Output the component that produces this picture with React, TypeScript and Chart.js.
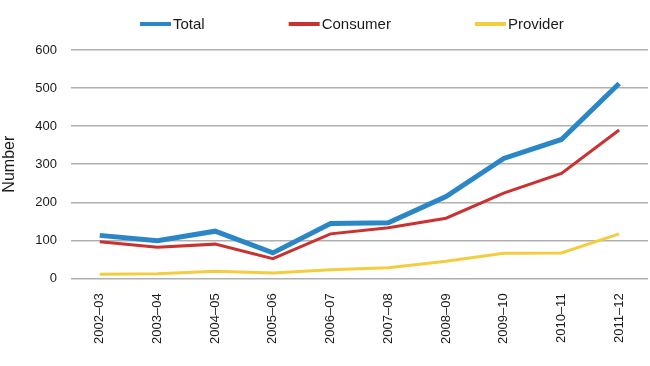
import React, { useEffect, useRef } from "react";
import { Chart, registerables } from "chart.js";

Chart.register(...registerables);

const categories = [
  "2002–03", "2003–04", "2004–05", "2005–06", "2006–07",
  "2007–08", "2008–09", "2009–10", "2010–11", "2011–12",
];
const totalValues = [113, 99, 124, 67, 144, 146, 215, 315, 365, 512];
const consumerValues = [96, 82, 90, 52, 117, 133, 158, 224, 276, 390];
const providerValues = [11, 12, 19, 14, 23, 28, 45, 66, 67, 117];
const seriesNames = ["Total", "Consumer", "Provider"];
const yTitle = "Number";

const FONT = "'Liberation Sans', Arial, Helvetica, sans-serif";

const customLegend = {
  id: "customLegend",
  afterDraw(chart: any) {
    const ctx = chart.ctx;
    ctx.save();
    ctx.font = `15px ${FONT}`;
    ctx.textBaseline = "middle";
    ctx.textAlign = "left";
    let x = 140;
    const y = 24;
    chart.data.datasets.forEach((ds: any) => {
      ctx.strokeStyle = ds.borderColor;
      ctx.lineWidth = 4;
      ctx.lineCap = "butt";
      ctx.beginPath();
      ctx.moveTo(x, y);
      ctx.lineTo(x + 31, y);
      ctx.stroke();
      ctx.fillStyle = "#1a1a1a";
      ctx.fillText(ds.label, x + 33, y + 1);
      x += 33 + ctx.measureText(ds.label).width + 84;
    });
    ctx.restore();
  },
};

export default function App() {
  const ref = useRef<HTMLCanvasElement>(null);
  useEffect(() => {
    if (!ref.current) return;
    const chart = new Chart(ref.current, {
      type: "line",
      data: {
        labels: categories,
        datasets: [
          {
            label: seriesNames[0],
            data: totalValues,
            borderColor: "#2a86c6",
            backgroundColor: "#2a86c6",
            borderWidth: 5,
            pointRadius: 0,
            tension: 0,
            order: 1,
          },
          {
            label: seriesNames[1],
            data: consumerValues,
            borderColor: "#c93230",
            backgroundColor: "#c93230",
            borderWidth: 3,
            pointRadius: 0,
            tension: 0,
            order: 2,
          },
          {
            label: seriesNames[2],
            data: providerValues,
            borderColor: "#f4cd3e",
            backgroundColor: "#f4cd3e",
            borderWidth: 3,
            pointRadius: 0,
            tension: 0,
            order: 3,
          },
        ],
      },
      options: {
        responsive: false,
        animation: false,
        layout: { padding: { top: 50, right: 2, bottom: 7, left: 0 } },
        plugins: {
          legend: { display: false },
          tooltip: { enabled: false },
        },
        scales: {
          x: {
            offset: true,
            grid: { display: false, drawTicks: false },
            border: { display: false },
            ticks: {
              minRotation: 90,
              maxRotation: 90,
              padding: 15,
              color: "#1a1a1a",
              font: { family: FONT, size: 13 },
            },
          },
          y: {
            min: 0,
            max: 600,
            grid: { color: "#b0b0b0", lineWidth: 1.5, drawTicks: false },
            border: { display: false },
            ticks: {
              stepSize: 100,
              padding: 14,
              color: "#1a1a1a",
              font: { family: FONT, size: 13 },
            },
            title: {
              display: true,
              text: yTitle,
              color: "#1a1a1a",
              font: { family: FONT, size: 16 },
              padding: { top: 0, bottom: 2 },
            },
          },
        },
      },
      plugins: [customLegend],
    });
    return () => chart.destroy();
  }, []);
  return (
    <div style={{ position: "fixed", left: 0, top: 0, width: 650, height: 366, background: "#fff" }}>
      <canvas ref={ref} width={650} height={366} />
    </div>
  );
}
